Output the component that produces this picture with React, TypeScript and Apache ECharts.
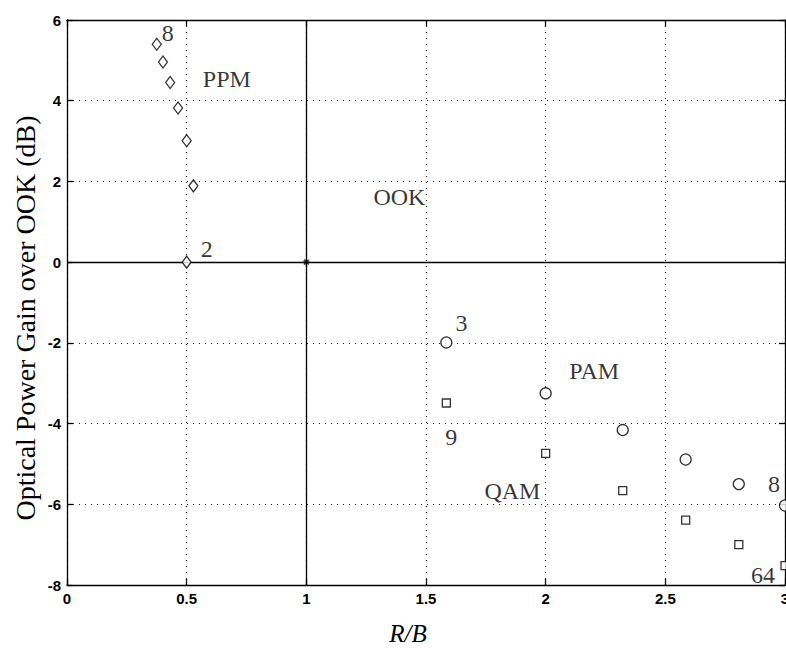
import React, { useEffect, useRef } from "react";
import * as echarts from "echarts";

// PPM (diamonds), L = 2..8
const ppmX = [0.5, 0.528, 0.5, 0.464, 0.431, 0.401, 0.375];
const ppmY = [0.0, 1.89, 3.01, 3.82, 4.45, 4.96, 5.4];
// OOK reference point
const ookX = [1];
const ookY = [0];
// PAM (circles), M = 3..8
const pamX = [1.585, 2.0, 2.322, 2.585, 2.807, 3.0];
const pamY = [-1.99, -3.25, -4.16, -4.89, -5.5, -6.03];
// QAM (squares), M = 9..64
const qamX = [1.585, 2.0, 2.322, 2.585, 2.807, 3.0];
const qamY = [-3.49, -4.74, -5.66, -6.39, -7.0, -7.52];
// Text annotations (data coordinates)
const noteText = ["8", "PPM", "2", "OOK", "3", "PAM", "9", "QAM", "8", "64"];
const noteX = [0.421, 0.668, 0.584, 1.389, 1.648, 2.203, 1.606, 1.861, 2.954, 2.908];
const noteY = [5.67, 4.53, 0.32, 1.61, -1.51, -2.7, -4.33, -5.67, -5.5, -7.75];

const xTicks = ["0", "0.5", "1", "1.5", "2", "2.5", "3"];
const xName = "R/B";
const yName = "Optical Power Gain over OOK (dB)";

export default function App() {
  const ref = useRef<HTMLDivElement>(null);
  useEffect(() => {
    if (!ref.current) return;
    const chart = echarts.init(ref.current, null, { renderer: "svg" });
    const tickFont = {
      fontFamily: "Liberation Sans, Arial, Helvetica",
      fontSize: 15,
      fontWeight: "bold" as const,
      color: "#000",
    };
    const axisLine = { show: true, onZero: false, lineStyle: { color: "#000", width: 1.3 } };
    const axisTick = { show: true, inside: true, length: 6, lineStyle: { color: "#000", width: 1.3 } };
    const split = { show: true, lineStyle: { color: "#222", type: [1, 5] as any, width: 1.2 } };
    const mk = (xs: number[], ys: number[]) => xs.map((x, i) => [x, ys[i]]);
    const hollow = { color: "#fff", borderColor: "#000", borderWidth: 1.3 };
    const serif = "Liberation Serif, Times New Roman, serif";

    chart.setOption({
      animation: false,
      backgroundColor: "#fff",
      grid: { left: 67, right: 1, top: 20, bottom: 63, outerBoundsMode: "none", containLabel: false },
      graphic: [
        {
          type: "text",
          x: 25,
          y: 318,
          rotation: Math.PI / 2,
          style: {
            text: yName,
            fontFamily: serif,
            fontSize: 28,
            fill: "#000",
            align: "center",
            verticalAlign: "middle",
          },
        },
        {
          type: "text",
          x: 408,
          y: 633,
          style: {
            text: xName,
            fontFamily: serif,
            fontStyle: "italic",
            fontSize: 25,
            fill: "#000",
            align: "center",
            verticalAlign: "middle",
          },
        },
      ],
      xAxis: [
        {
          type: "value",
          min: 0,
          max: 3,
          interval: 0.5,
          position: "bottom",
          axisLine,
          axisTick,
          splitLine: split,
          axisLabel: {
            ...tickFont,
            margin: 6,
            formatter: (v: number) => xTicks[Math.round(v * 2)] ?? "",
          },
        },
        {
          type: "value",
          min: 0,
          max: 3,
          interval: 0.5,
          position: "top",
          axisLine,
          axisTick,
          splitLine: { show: false },
          axisLabel: { show: false },
        },
      ],
      yAxis: [
        {
          type: "value",
          min: -8,
          max: 6,
          interval: 2,
          position: "left",
          axisLine,
          axisTick,
          splitLine: split,
          axisLabel: { ...tickFont, margin: 6 },
        },
        {
          type: "value",
          min: -8,
          max: 6,
          interval: 2,
          position: "right",
          axisLine,
          axisTick,
          splitLine: { show: false },
          axisLabel: { show: false },
        },
      ],
      series: [
        {
          type: "scatter",
          name: "PPM",
          data: mk(ppmX, ppmY),
          symbol: "diamond",
          symbolSize: [9, 12],
          itemStyle: hollow,
          z: 5,
        },
        {
          type: "scatter",
          name: "OOK",
          data: mk(ookX, ookY),
          symbol:
            "path://M0,-1L0,1M-1,0L1,0M-0.7,-0.7L0.7,0.7M-0.7,0.7L0.7,-0.7",
          symbolSize: 7,
          itemStyle: { color: "none", borderColor: "#000", borderWidth: 1.5 },
          z: 5,
          markLine: {
            silent: true,
            symbol: "none",
            label: { show: false },
            lineStyle: { color: "#000", type: "solid", width: 1.3 },
            data: [{ xAxis: ookX[0] }, { yAxis: ookY[0] }],
          },
        },
        {
          type: "scatter",
          name: "PAM",
          data: mk(pamX, pamY),
          symbol: "circle",
          symbolSize: 11,
          itemStyle: hollow,
          z: 5,
        },
        {
          type: "scatter",
          name: "QAM",
          data: mk(qamX, qamY),
          symbol: "rect",
          symbolSize: 8,
          itemStyle: hollow,
          z: 5,
        },
        {
          type: "scatter",
          name: "notes",
          data: noteText.map((t, i) => ({ value: [noteX[i], noteY[i]], name: t })),
          symbolSize: 0,
          silent: true,
          z: 6,
          label: {
            show: true,
            position: "inside",
            formatter: (p: any) => p.name,
            fontFamily: serif,
            fontSize: 24,
            color: "#000",
          },
        },
      ],
    });
    return () => chart.dispose();
  }, []);
  return <div ref={ref} style={{ width: 786, height: 648, position: "absolute", left: 0, top: 0 }} />;
}
